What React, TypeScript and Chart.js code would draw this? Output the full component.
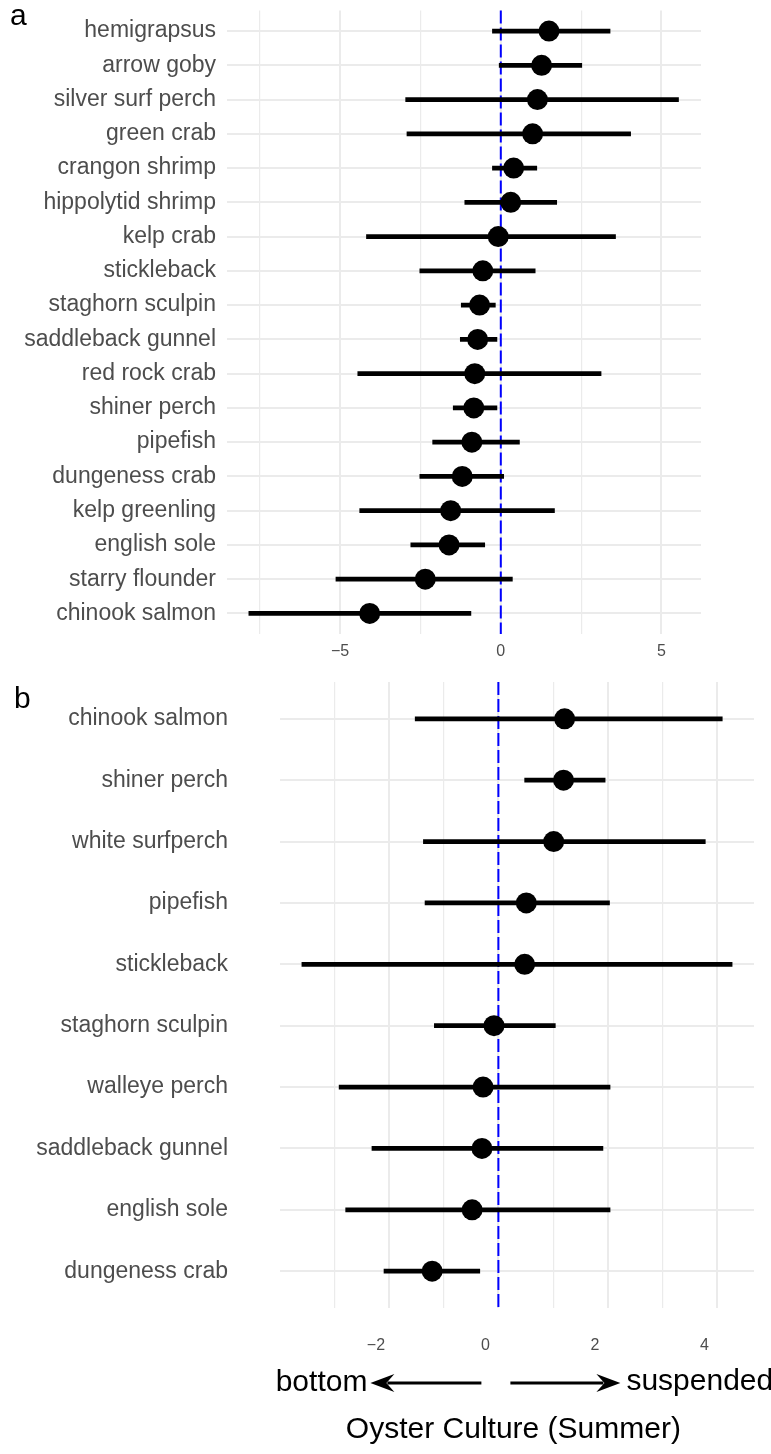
import React, { useEffect, useRef } from 'react';
import { Chart, registerables } from 'chart.js';

Chart.register(...registerables);

// Panel a: all species, top to bottom
const speciesA = [
  'hemigrapsus', 'arrow goby', 'silver surf perch', 'green crab', 'crangon shrimp',
  'hippolytid shrimp', 'kelp crab', 'stickleback', 'staghorn sculpin', 'saddleback gunnel',
  'red rock crab', 'shiner perch', 'pipefish', 'dungeness crab', 'kelp greenling',
  'english sole', 'starry flounder', 'chinook salmon',
];
const estimateA = [1.50, 1.27, 1.14, 0.99, 0.40, 0.31, -0.08, -0.56, -0.66, -0.72, -0.81, -0.84, -0.90, -1.20, -1.56, -1.61, -2.35, -4.08];
const lowerA = [-0.26, -0.05, -2.96, -2.92, -0.26, -1.12, -4.18, -2.52, -1.23, -1.26, -4.45, -1.48, -2.12, -2.52, -4.39, -2.80, -5.13, -7.84];
const upperA = [3.40, 2.52, 5.53, 4.04, 1.12, 1.74, 3.57, 1.07, -0.17, -0.12, 3.12, -0.12, 0.58, 0.09, 1.67, -0.50, 0.36, -0.93];
const gridTicksA = [-7.5, -5, -2.5, 0, 2.5, 5];
const labelTicksA = [-5, 0, 5];
const rangeA = [-8.52, 6.23];

// Panel b: summer species, top to bottom
const speciesB = [
  'chinook salmon', 'shiner perch', 'white surfperch', 'pipefish', 'stickleback',
  'staghorn sculpin', 'walleye perch', 'saddleback gunnel', 'english sole', 'dungeness crab',
];
const estimateB = [1.21, 1.19, 1.01, 0.51, 0.48, -0.08, -0.28, -0.30, -0.48, -1.21];
const lowerB = [-1.52, 0.48, -1.37, -1.34, -3.59, -1.17, -2.91, -2.31, -2.79, -2.09];
const upperB = [4.09, 1.95, 3.78, 2.03, 4.27, 1.04, 2.04, 1.91, 2.04, -0.34];
const gridTicksB = [-3, -2, -1, 0, 1, 2, 3, 4];
const labelTicksB = [-2, 0, 2, 4];
const rangeB = [-3.99, 4.67];

const FONT = '"Liberation Sans", Arial, Helvetica, sans-serif';
const TEXT_GREY = '#4D4D4D';
const GRID = '#EBEBEB';

const fmt = (v: number) => (v < 0 ? '\u2212' + Math.abs(v) : String(v));

const zeroLine = {
  id: 'zeroLine',
  beforeDatasetsDraw(chart: any) {
    const { ctx, chartArea, scales } = chart;
    const x = scales.x.getPixelForValue(0);
    ctx.save();
    ctx.strokeStyle = '#0000FF';
    ctx.lineWidth = 2;
    ctx.setLineDash([13, 4]);
    ctx.beginPath();
    ctx.moveTo(x, chartArea.top);
    ctx.lineTo(x, chartArea.bottom);
    ctx.stroke();
    ctx.restore();
  },
};

function panelLetter(letter: string, x: number, y: number) {
  return {
    id: 'panelLetter',
    afterDraw(chart: any) {
      const { ctx } = chart;
      ctx.save();
      ctx.fillStyle = '#000';
      ctx.font = `30px ${FONT}`;
      ctx.textBaseline = 'alphabetic';
      ctx.textAlign = 'left';
      ctx.fillText(letter, x, y);
      ctx.restore();
    },
  };
}

// Direction arrows and axis title under panel b
const directionNote = {
  id: 'directionNote',
  afterDraw(chart: any) {
    const { ctx, chartArea, scales } = chart;
    const x0 = scales.x.getPixelForValue(0);
    const ay = chartArea.bottom + 75;
    ctx.save();
    ctx.fillStyle = '#000';
    ctx.strokeStyle = '#000';
    ctx.lineWidth = 3;

    const head = (tip: number, dir: number) => {
      ctx.beginPath();
      ctx.moveTo(tip, ay);
      ctx.lineTo(tip - dir * 24, ay - 9);
      ctx.lineTo(tip - dir * 16, ay);
      ctx.lineTo(tip - dir * 24, ay + 9);
      ctx.closePath();
      ctx.fill();
    };
    // left arrow
    const lTip = x0 - 128;
    ctx.beginPath();
    ctx.moveTo(x0 - 17, ay);
    ctx.lineTo(lTip + 17, ay);
    ctx.stroke();
    head(lTip, -1);
    // right arrow
    const rTip = x0 + 122;
    ctx.beginPath();
    ctx.moveTo(x0 + 12, ay);
    ctx.lineTo(rTip - 17, ay);
    ctx.stroke();
    head(rTip, 1);

    ctx.font = `30px ${FONT}`;
    ctx.textBaseline = 'alphabetic';
    ctx.textAlign = 'right';
    ctx.fillText('bottom', lTip - 3, chartArea.bottom + 83);
    ctx.textAlign = 'left';
    ctx.fillText('suspended', rTip + 6, chartArea.bottom + 82);
    ctx.textAlign = 'center';
    ctx.fillText('Oyster Culture (Summer)', x0 + 15, chartArea.bottom + 130);
    ctx.restore();
  },
};

type PanelSpec = {
  species: string[];
  estimate: number[];
  lower: number[];
  upper: number[];
  gridTicks: number[];
  labelTicks: number[];
  range: number[];
  padding: { top: number; right: number; bottom: number; left: number };
  yWidth: number;
  yPad: number;
  xHeight: number;
  xPad: number;
  labelOffset: number;
  plugins: any[];
};

function buildConfig(p: PanelSpec): any {
  const n = p.species.length;
  return {
    type: 'scatter',
    data: {
      datasets: [
        {
          type: 'scatter',
          data: p.estimate.map((v, i) => ({ x: v, y: i })),
          backgroundColor: '#000',
          borderWidth: 0,
          pointRadius: 10.5,
          pointHoverRadius: 10.5,
        },
        {
          type: 'bar',
          indexAxis: 'y',
          data: p.lower.map((lo, i) => ({ y: i, x: [lo, p.upper[i]] })),
          backgroundColor: '#000',
          borderWidth: 0,
          barThickness: 4,
        },
      ],
    },
    options: {
      animation: false,
      responsive: false,
      maintainAspectRatio: false,
      layout: { padding: p.padding },
      plugins: { legend: { display: false }, tooltip: { enabled: false } },
      scales: {
        x: {
          type: 'linear',
          min: p.range[0],
          max: p.range[1],
          offset: false,
          beginAtZero: false,
          afterBuildTicks: (s: any) => {
            s.ticks = p.gridTicks.map((v) => ({ value: v }));
          },
          afterFit: (s: any) => {
            s.height = p.xHeight;
            s.paddingLeft = 0;
            s.paddingRight = 0;
          },
          border: { display: false },
          grid: {
            offset: false,
            drawTicks: false,
            color: GRID,
            lineWidth: (c: any) => (c.tick && p.labelTicks.includes(c.tick.value) ? 2 : 1.2),
          },
          ticks: {
            autoSkip: false,
            maxRotation: 0,
            padding: p.xPad,
            labelOffset: p.labelOffset,
            color: TEXT_GREY,
            font: { family: FONT, size: 16 },
            callback: (v: number) => (p.labelTicks.includes(v) ? fmt(v) : ''),
          },
        },
        y: {
          type: 'linear',
          reverse: true,
          min: -0.6,
          max: n - 0.4,
          offset: false,
          beginAtZero: false,
          afterBuildTicks: (s: any) => {
            s.ticks = p.species.map((_, i) => ({ value: i }));
          },
          afterFit: (s: any) => {
            s.width = p.yWidth;
            s.paddingTop = 0;
            s.paddingBottom = 0;
          },
          border: { display: false },
          grid: { offset: false, drawTicks: false, color: GRID, lineWidth: 2 },
          ticks: {
            autoSkip: false,
            padding: p.yPad,
            color: TEXT_GREY,
            font: { family: FONT, size: 23 },
            callback: (v: number) => p.species[v] ?? '',
          },
        },
      },
    },
    plugins: p.plugins,
  };
}

function Panel({ spec, top, height }: { spec: PanelSpec; top: number; height: number }) {
  const ref = useRef<HTMLCanvasElement | null>(null);
  useEffect(() => {
    if (!ref.current) return;
    const chart = new Chart(ref.current, buildConfig(spec));
    return () => chart.destroy();
  }, [spec]);
  return (
    <canvas
      ref={ref}
      width={771}
      height={height}
      style={{ position: 'absolute', left: 0, top, width: 771, height, display: 'block' }}
    />
  );
}

const specA: PanelSpec = {
  species: speciesA,
  estimate: estimateA,
  lower: lowerA,
  upper: upperA,
  gridTicks: gridTicksA,
  labelTicks: labelTicksA,
  range: rangeA,
  padding: { top: 7, right: 70, bottom: 0, left: 0 },
  yWidth: 227,
  yPad: 11,
  xHeight: 36,
  xPad: 8,
  labelOffset: 0,
  plugins: [zeroLine, panelLetter('a', 10, 25)],
};

const specB: PanelSpec = {
  species: speciesB,
  estimate: estimateB,
  lower: lowerB,
  upper: upperB,
  gridTicks: gridTicksB,
  labelTicks: labelTicksB,
  range: rangeB,
  padding: { top: 12, right: 17, bottom: 86, left: 0 },
  yWidth: 280,
  yPad: 52,
  xHeight: 60,
  xPad: 28,
  labelOffset: -13,
  plugins: [zeroLine, panelLetter('b', 14, 38), directionNote],
};

export default function App() {
  return (
    <div style={{ position: 'absolute', left: 0, top: 0, width: 771, height: 1454, background: '#fff' }}>
      <Panel spec={specA} top={0} height={670} />
      <Panel spec={specB} top={670} height={784} />
    </div>
  );
}
